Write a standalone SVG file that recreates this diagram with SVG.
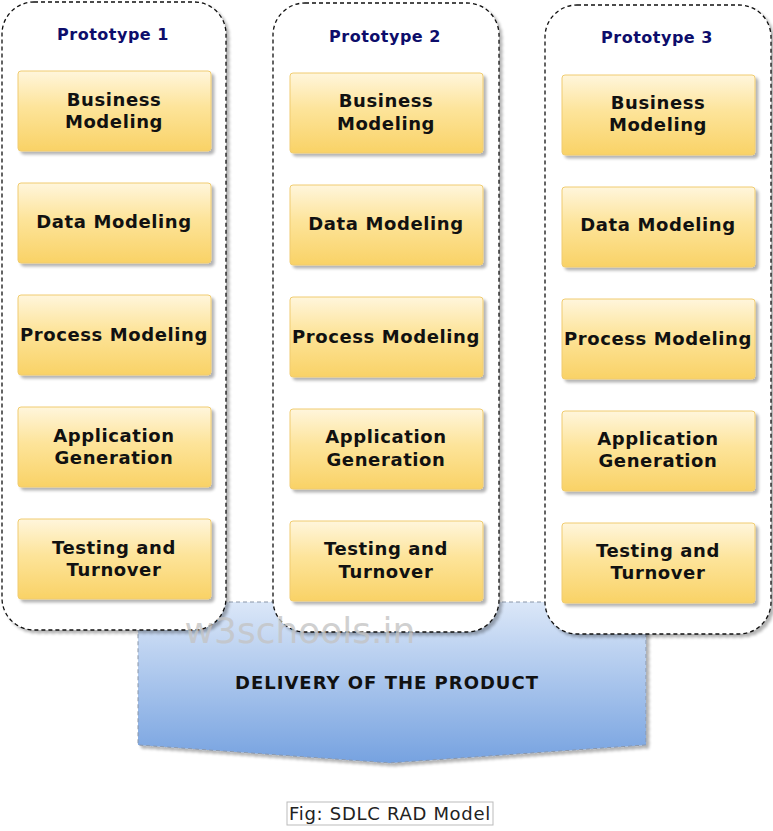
<svg xmlns="http://www.w3.org/2000/svg" width="773" height="831" viewBox="0 0 773 831">
<defs>
<linearGradient id="gy" x1="0" y1="0" x2="0" y2="1">
<stop offset="0" stop-color="#fff6dc"/>
<stop offset="0.45" stop-color="#fde49a"/>
<stop offset="1" stop-color="#f9d266"/>
</linearGradient>
<linearGradient id="gb" x1="0" y1="0" x2="0" y2="1">
<stop offset="0" stop-color="#dbe7f8"/>
<stop offset="1" stop-color="#76a2e0"/>
</linearGradient>
<filter id="sh" x="-10%" y="-10%" width="120%" height="120%">
<feGaussianBlur in="SourceAlpha" stdDeviation="1.5"/>
<feOffset dx="3" dy="3" result="b"/>
<feComponentTransfer><feFuncA type="linear" slope="0.3"/></feComponentTransfer>
<feMerge><feMergeNode/><feMergeNode in="SourceGraphic"/></feMerge>
</filter>
</defs>
<style>
.cont{fill:#fff;stroke:#111;stroke-width:1.3;stroke-dasharray:4 3}
.box{fill:url(#gy);stroke:#f0cc70;stroke-width:1}
.t{font-family:"DejaVu Sans",Verdana,sans-serif;font-weight:bold;font-size:18px;letter-spacing:0.6px;fill:#111;text-anchor:middle}
.h{font-family:"DejaVu Sans",Verdana,sans-serif;font-weight:bold;font-size:16px;letter-spacing:0.5px;fill:#0d0d6b;text-anchor:middle}
</style>
<g id="delivery" filter="url(#sh)">
<path d="M138,602 H646 V745 L390,763 L138,745 Z" fill="url(#gb)" stroke="#8a96a8" stroke-width="1" stroke-dasharray="4 3"/>
</g>
<text x="387" y="689" font-family="DejaVu Sans,Verdana,sans-serif" font-weight="bold" font-size="18" letter-spacing="1" fill="#111" text-anchor="middle">DELIVERY OF THE PRODUCT</text>

<g id="prototype1">
<rect class="cont" x="2" y="2" width="224" height="628" rx="32" filter="url(#sh)"/>
<text class="h" x="113" y="40">Prototype 1</text>
<g filter="url(#sh)">
<rect class="box" x="18" y="71" width="193" height="80" rx="3"/>
<rect class="box" x="18" y="183" width="193" height="80" rx="3"/>
<rect class="box" x="18" y="295" width="193" height="80" rx="3"/>
<rect class="box" x="18" y="407" width="193" height="80" rx="3"/>
<rect class="box" x="18" y="519" width="193" height="80" rx="3"/>
</g>
<text class="t" x="114" y="106">Business</text><text class="t" x="114" y="128">Modeling</text>
<text class="t" x="114" y="228">Data Modeling</text>
<text class="t" x="114" y="341">Process Modeling</text>
<text class="t" x="114" y="442">Application</text><text class="t" x="114" y="464">Generation</text>
<text class="t" x="114" y="554">Testing and</text><text class="t" x="114" y="576">Turnover</text>
</g>

<g id="prototype2">
<rect class="cont" x="273" y="3" width="226" height="629" rx="32" filter="url(#sh)"/>
<text class="h" x="385" y="42">Prototype 2</text>
<g filter="url(#sh)">
<rect class="box" x="290" y="73" width="193" height="80" rx="3"/>
<rect class="box" x="290" y="185" width="193" height="80" rx="3"/>
<rect class="box" x="290" y="297" width="193" height="80" rx="3"/>
<rect class="box" x="290" y="409" width="193" height="80" rx="3"/>
<rect class="box" x="290" y="521" width="193" height="80" rx="3"/>
</g>
<text class="t" x="386" y="107">Business</text><text class="t" x="386" y="130">Modeling</text>
<text class="t" x="386" y="230">Data Modeling</text>
<text class="t" x="386" y="343">Process Modeling</text>
<text class="t" x="386" y="443">Application</text><text class="t" x="386" y="466">Generation</text>
<text class="t" x="386" y="555">Testing and</text><text class="t" x="386" y="578">Turnover</text>
</g>

<g id="prototype3">
<rect class="cont" x="545" y="5" width="226" height="629" rx="32" filter="url(#sh)"/>
<text class="h" x="657" y="43">Prototype 3</text>
<g filter="url(#sh)">
<rect class="box" x="562" y="75" width="193" height="80" rx="3"/>
<rect class="box" x="562" y="187" width="193" height="80" rx="3"/>
<rect class="box" x="562" y="299" width="193" height="80" rx="3"/>
<rect class="box" x="562" y="411" width="193" height="80" rx="3"/>
<rect class="box" x="562" y="523" width="193" height="80" rx="3"/>
</g>
<text class="t" x="658" y="109">Business</text><text class="t" x="658" y="131">Modeling</text>
<text class="t" x="658" y="231">Data Modeling</text>
<text class="t" x="658" y="345">Process Modeling</text>
<text class="t" x="658" y="445">Application</text><text class="t" x="658" y="467">Generation</text>
<text class="t" x="658" y="557">Testing and</text><text class="t" x="658" y="579">Turnover</text>
</g>

<text x="300" y="643" font-family="DejaVu Sans,Verdana,sans-serif" font-size="36" fill="#c4c4c4" fill-opacity="0.8" text-anchor="middle">w3schools.in</text>

<g id="caption">
<rect x="287" y="802" width="206" height="23" fill="#fff" stroke="#bbb" stroke-width="1"/>
<text x="390" y="820" font-family="DejaVu Sans,Verdana,sans-serif" font-size="18" letter-spacing="0.7" fill="#222" text-anchor="middle">Fig: SDLC RAD Model</text>
</g>
<g id="connectors"/>
</svg>
